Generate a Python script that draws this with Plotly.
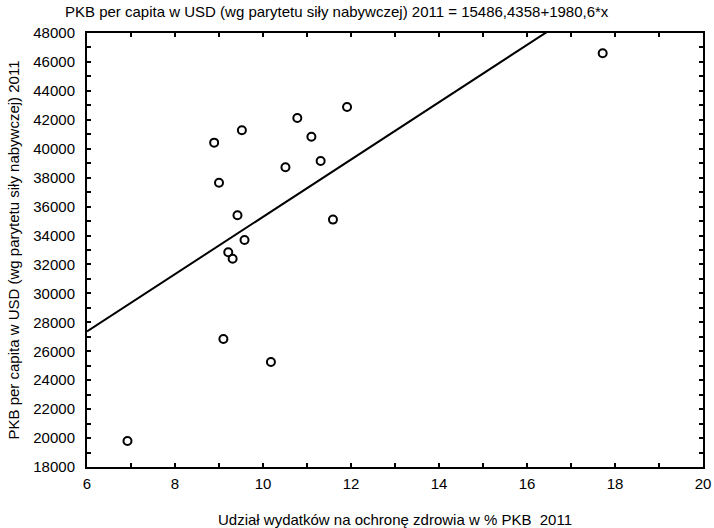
import plotly.graph_objects as go

# Data
health_share = [6.92, 8.89, 9.52, 10.78, 11.91, 11.10, 11.31, 10.51, 9.00,
                9.42, 11.59, 9.58, 9.21, 9.31, 9.10, 10.18, 17.72]
gdp_pc = [19800, 40420, 41280, 42130, 42890, 40830, 39150, 38720, 37650,
          35400, 35100, 33690, 32840, 32400, 26850, 25260, 46600]

intercept = 15486.4358
slope = 1980.6
line_x = [6, 20]
line_y = [intercept + slope * v for v in line_x]

title_text = "PKB per capita w USD (wg parytetu siły nabywczej) 2011 = 15486,4358+1980,6*x"
x_title = "Udział wydatków na ochronę zdrowia w % PKB  2011"
y_title = "PKB per capita w USD (wg parytetu siły nabywczej) 2011"

font_family = "Liberation Sans, Arial, sans-serif"

fig = go.Figure()
fig.add_trace(go.Scatter(x=line_x, y=line_y, mode="lines",
                         line=dict(color="black", width=2), showlegend=False,
                         hoverinfo="skip"))
fig.add_trace(go.Scatter(x=health_share, y=gdp_pc, mode="markers",
                         marker=dict(symbol="circle-open", size=8, color="black",
                                     line=dict(width=2, color="black")),
                         showlegend=False))

axis_common = dict(showline=True, linecolor="black", linewidth=2, mirror="ticks",
                   ticks="inside", ticklen=4, tickwidth=1.5, tickcolor="black",
                   showgrid=False, zeroline=False, automargin=False,
                   tickfont=dict(family=font_family, size=15, color="black"))

fig.update_xaxes(range=[6, 20], dtick=2, tick0=6, tickformat="d",
                 ticklabelstandoff=2,
                 minor=dict(dtick=1, ticks="inside", ticklen=4, tickcolor="black", tickwidth=1.5),
                 title=dict(text=x_title, font=dict(family=font_family, size=15, color="black"),
                            standoff=23),
                 **axis_common)
fig.update_yaxes(range=[18000, 48000], dtick=2000, tick0=18000, tickformat="d",
                 ticklabelstandoff=7,
                 minor=dict(dtick=1000, ticks="inside", ticklen=4, tickcolor="black", tickwidth=1.5),
                 title=dict(text=y_title, font=dict(family=font_family, size=15, color="black"),
                            standoff=10),
                 **axis_common)

fig.update_layout(
    width=714, height=528,
    margin=dict(l=87, r=11, t=33, b=61, autoexpand=False),
    paper_bgcolor="white", plot_bgcolor="white",
    title=dict(text=title_text, xref="container", x=65 / 714, xanchor="left",
               yref="container", y=1 - 12 / 528, yanchor="middle",
               font=dict(family=font_family, size=15, color="black")),
)

fig.write_html("out.html", config={"displayModeBar": False},
               post_script="document.body.style.margin='0';")
